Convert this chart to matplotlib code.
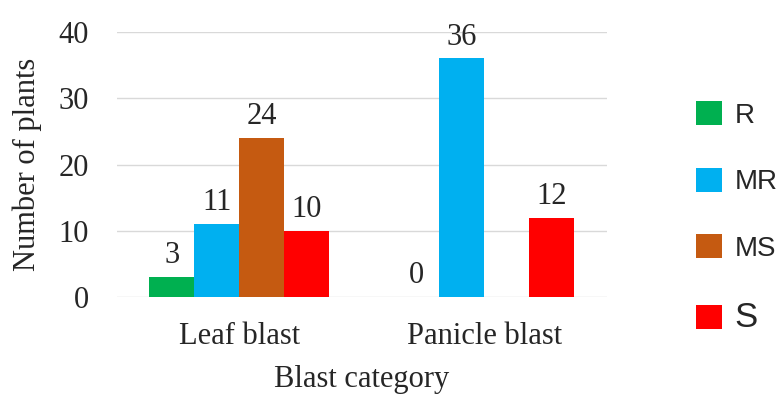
import matplotlib.pyplot as plt
import numpy as np

categories = ["Leaf blast", "Panicle blast"]
series_names = ["R", "MR", "MS", "S"]
r_vals = [3, 0]
mr_vals = [11, 36]
ms_vals = [24, np.nan]   # no bar / no label for panicle MS
s_vals = [10, 12]
colors = ["#00B050", "#00B0F0", "#C55A11", "#FF0000"]

fig = plt.figure(figsize=(7.84, 3.95), dpi=100)
ax = fig.add_axes([0.149, 0.248, 0.625, 0.671])

serif = ["Liberation Serif", "DejaVu Serif"]
txt = "#262626"
x = np.arange(len(categories))
width = 0.184
series = [r_vals, mr_vals, ms_vals, s_vals]
for i, (vals, name, c) in enumerate(zip(series, series_names, colors)):
    pos = x + (i - 1.5) * width
    v = np.array(vals, dtype=float)
    bars = ax.bar(pos, np.nan_to_num(v), width, color=c, label=name, zorder=3)
    for b, val in zip(bars, v):
        if np.isnan(val):
            continue
        ax.annotate(f"{int(val)}", (b.get_x() + b.get_width() / 2, val),
                    xytext=(0, 5), textcoords="offset points",
                    ha="center", va="bottom", fontsize=22,
                    family=serif, color=txt)

ax.set_xlim(-0.5, 1.5)
ax.set_ylim(0, 40)
ax.set_yticks(range(0, 41, 10))
ax.set_xticks(x)
ax.set_xticklabels(categories)
ax.grid(axis="y", color="#D9D9D9", linewidth=1, zorder=0)
for sp in ax.spines.values():
    sp.set_visible(False)
ax.tick_params(length=0, labelsize=22, colors=txt)
ax.tick_params(axis="y", pad=20)
ax.tick_params(axis="x", pad=18)
for lab in ax.get_xticklabels() + ax.get_yticklabels():
    lab.set_family(serif)

ax.set_ylabel("Number of plants", fontsize=22, family=serif, color=txt,
              labelpad=12)
ax.set_xlabel("Blast category", fontsize=22, family=serif, color=txt,
              labelpad=10)

leg = ax.legend(loc="center left", bbox_to_anchor=(1.13, 0.30), frameon=False,
                prop={"family": "Liberation Sans", "size": 20},
                handlelength=0.95, handleheight=0.95, labelspacing=1.4,
                handletextpad=0.45)
for t in leg.get_texts():
    t.set_color(txt)
leg.get_texts()[3].set_fontsize(25)

fig.savefig("out.png", dpi=100)
